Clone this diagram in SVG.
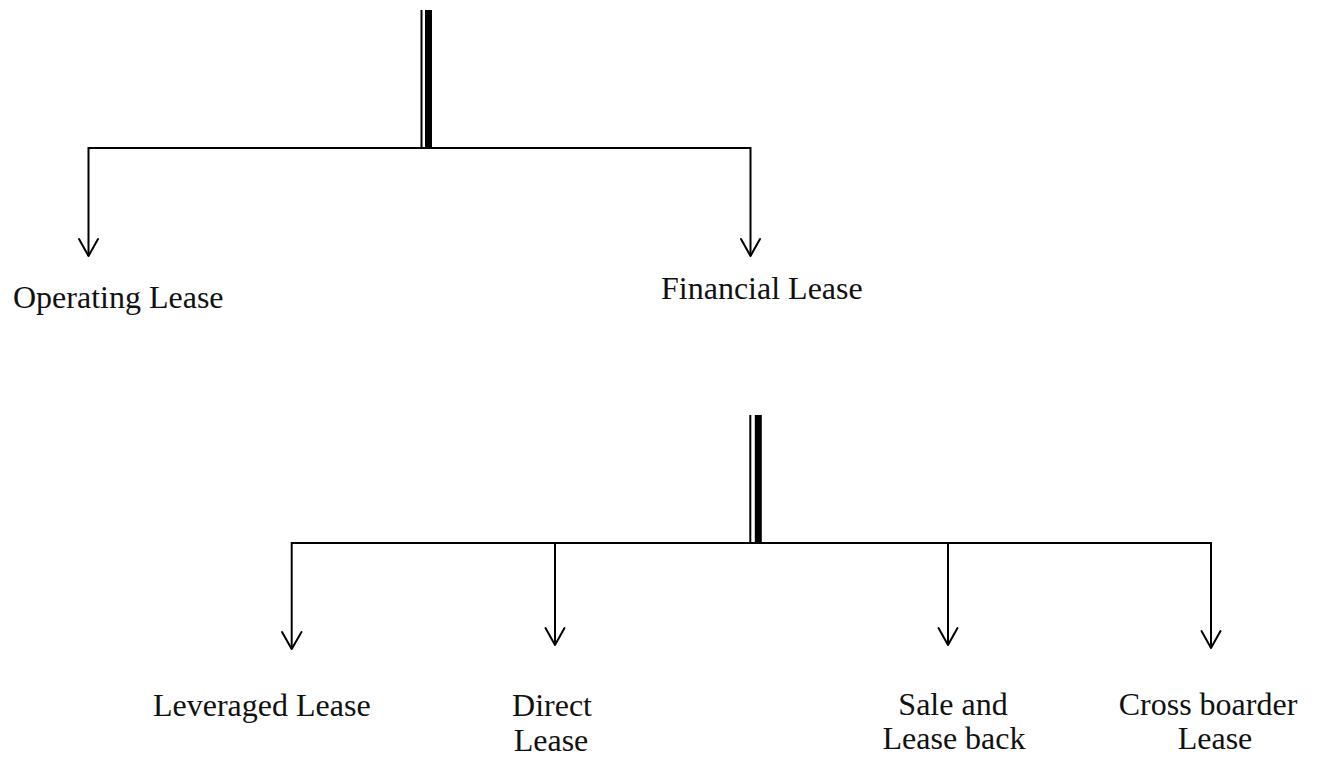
<svg xmlns="http://www.w3.org/2000/svg" width="1322" height="757" viewBox="0 0 1322 757">
<style>
.ln{stroke:#000;stroke-width:2;fill:none}
.ah{stroke:#000;stroke-width:2;fill:none;stroke-linecap:round;stroke-linejoin:round}
.t{font-family:"Liberation Serif","Times New Roman",serif;font-size:32px;fill:#111}
</style>
<rect width="1322" height="757" fill="#fff"/>
<g id="connectors">
  <line class="ln" x1="421.5" y1="10" x2="421.5" y2="148"/>
  <line x1="428.5" y1="10" x2="428.5" y2="148" stroke="#000" stroke-width="7"/>
  <path class="ln" d="M88.5,256 V148 H750.5 V256"/>
  <path class="ah" d="M79,239 L88.5,256 L98,239"/>
  <path class="ah" d="M741,239 L750.5,256 L760,239"/>
  <line class="ln" x1="750.3" y1="415" x2="750.3" y2="543"/>
  <line x1="758.3" y1="415" x2="758.3" y2="543" stroke="#000" stroke-width="7"/>
  <path class="ln" d="M291.7,649 V543 H1211 V648"/>
  <path class="ah" d="M282,632 L291.7,649 L301.5,632"/>
  <path class="ah" d="M1201.5,631 L1211,648 L1220.5,631"/>
  <line class="ln" x1="555" y1="543" x2="555" y2="645"/>
  <path class="ah" d="M545.5,628 L555,645 L564.5,628"/>
  <line class="ln" x1="948" y1="543" x2="948" y2="645"/>
  <path class="ah" d="M938.5,628 L948,645 L957.5,628"/>
</g>
<g id="operating"><text class="t" x="13" y="308">Operating Lease</text></g>
<g id="financial"><text class="t" x="661" y="299">Financial Lease</text></g>
<g id="leveraged"><text class="t" x="153" y="716">Leveraged Lease</text></g>
<g id="direct"><text class="t" text-anchor="middle" x="552" y="716">Direct</text><text class="t" text-anchor="middle" x="551" y="751">Lease</text></g>
<g id="sale"><text class="t" text-anchor="middle" x="953" y="715">Sale and</text><text class="t" text-anchor="middle" x="954" y="749">Lease back</text></g>
<g id="cross"><text class="t" text-anchor="middle" x="1208" y="715">Cross boarder</text><text class="t" text-anchor="middle" x="1215" y="749">Lease</text></g>
</svg>
